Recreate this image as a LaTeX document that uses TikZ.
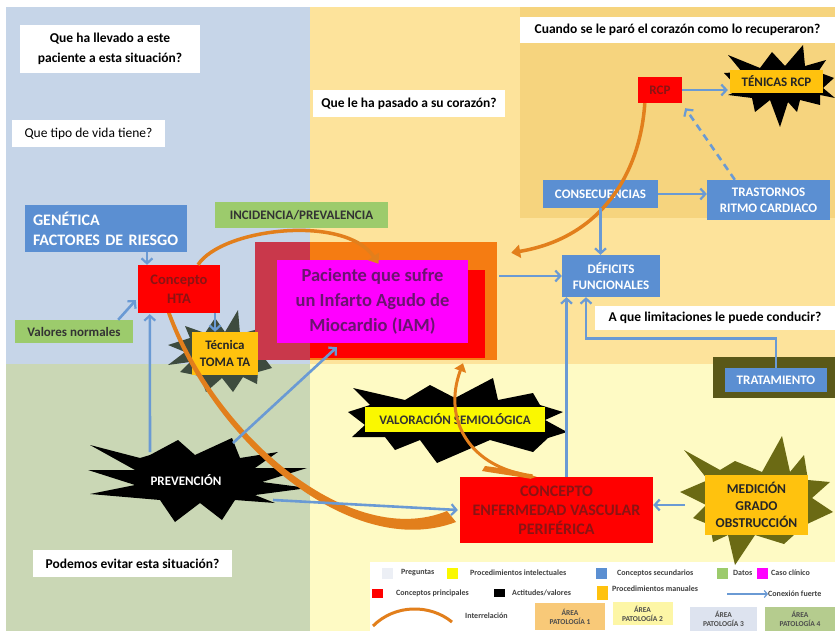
\documentclass[tikz,border=0pt]{standalone}
\usepackage{fontspec}
\setmainfont{Carlito}
\usetikzlibrary{arrows.meta,calc}
\definecolor{areaA}{HTML}{FDE39B}
\definecolor{areaAd}{HTML}{F6D47E}
\definecolor{areaB}{HTML}{FEFAC4}
\definecolor{areaC}{HTML}{C6D5E8}
\definecolor{areaD}{HTML}{CAD7B5}
\definecolor{secblue}{HTML}{5B8FD2}
\definecolor{arrblue}{HTML}{6A9AD4}
\definecolor{redtxt}{HTML}{8A1414}
\definecolor{pured}{HTML}{FF0000}
\definecolor{magbox}{HTML}{FF00FF}
\definecolor{datgreen}{HTML}{9CCB6C}
\definecolor{manual}{HTML}{FFC20E}
\definecolor{intel}{HTML}{FAF800}
\definecolor{interr}{HTML}{E27F1C}
\definecolor{pacor}{HTML}{F57C12}
\definecolor{paccr}{HTML}{C9384B}
\definecolor{magtxt}{HTML}{6B1470}
\definecolor{olivestar}{HTML}{6B6A14}
\definecolor{darkolive}{HTML}{5A5818}
\definecolor{tomastar}{HTML}{3D4B3E}
\definecolor{legA}{HTML}{F8C978}
\definecolor{legB}{HTML}{FDF6A6}
\definecolor{legC}{HTML}{DDE3EF}
\definecolor{legD}{HTML}{B5CC8E}
\definecolor{legQ}{HTML}{ECEFF5}
\tikzset{
 box/.style={inner sep=0pt, align=center, font=\bfseries\fontsize{13}{16}\selectfont},
 qbox/.style={box, fill=white, text=black, font=\bfseries\fontsize{13.5}{20}\selectfont},
 secbox/.style={box, fill=secblue, text=white},
 prinbox/.style={box, fill=pured, text=redtxt},
 datbox/.style={box, fill=datgreen, text=black!80},
 manbox/.style={box, fill=manual, text=black!85},
 intbox/.style={box, fill=intel, text=black!80},
 conn/.style={draw=arrblue, line width=2.6pt, -{Straight Barb[length=5pt,width=11pt,line width=2.2pt]}},
 rel/.style={draw=interr, line width=4pt},
 legtxt/.style={inner sep=0pt, anchor=west, font=\bfseries\fontsize{8}{9}\selectfont, text=black!75},
 legsw/.style={inner sep=0pt, minimum width=11pt, minimum height=11pt},
 legarea/.style={inner sep=0pt, align=center, font=\bfseries\fontsize{7.5}{9}\selectfont, text=black!70},
}
\begin{document}
\begin{tikzpicture}[x=1pt,y=-1pt]
\useasboundingbox (0,0) rectangle (835,631);
% backgrounds
\fill[white] (0,0) rectangle (835,631);
\fill[areaC] (6,7) rectangle (310,364);
\fill[areaA] (310,7) rectangle (835,364);
\fill[areaAd] (520,7) rectangle (835,218);
\fill[areaD] (6,364) rectangle (310,631);
\fill[areaB] (310,364) rectangle (835,631);
\fill[white] (370,562) rectangle (835,631);

% questions
\node[qbox, minimum width=180pt, minimum height=48pt] (q1) at (110,49) {Que ha llevado a este\\paciente a esta situación?};
\node[qbox, minimum width=153pt, minimum height=27pt, font=\fontsize{13.5}{16}\selectfont] (q2) at (88.5,133.5) {Que tipo de vida tiene?};
\node[qbox, minimum width=192pt, minimum height=27pt] (q3) at (409,103.5) {Que le ha pasado a su corazón?};
\node[qbox, minimum width=315pt, minimum height=26pt] (q4) at (677.5,30) {Cuando se le paró el corazón como lo recuperaron?};
\node[qbox, minimum width=240pt, minimum height=24pt] (q5) at (715,318) {A que limitaciones le puede conducir?};
\node[qbox, minimum width=199pt, minimum height=27pt] (q6) at (132.5,563.5) {Podemos evitar esta situación?};

% stars
\fill[tomastar] (238,310) -- (240,334) -- (262,328) -- (275,345) -- (262,355) -- (272,368) -- (258,372) -- (257,384) -- (243,377) -- (233,392) -- (222,378) -- (206,392) -- (200,376) -- (180,372) -- (190,362) -- (168,365) -- (185,352) -- (168,345) -- (190,338) -- (185,326) -- (205,333) -- (215,318) -- (225,332) -- cycle;
\fill[black] (150,455) -- (178,440) -- (195,455) -- (232,438) -- (240,458) -- (278,452) -- (255,468) -- (307,468) -- (262,482) -- (308,488) -- (255,495) -- (275,503) -- (235,500) -- (222,520) -- (200,503) -- (175,522) -- (160,500) -- (90,494) -- (135,485) -- (88,470) -- (135,470) -- (90,445) -- (140,458) -- cycle;
\fill[black] (353,388) -- (405,400) -- (430,385) -- (455,398) -- (493,378) -- (498,400) -- (533,393) -- (540,405) -- (563,412) -- (545,420) -- (567,432) -- (548,438) -- (533,452) -- (490,440) -- (437,463) -- (420,440) -- (395,450) -- (385,437) -- (352,437) -- (365,425) -- (348,412) -- (370,405) -- cycle;
\fill[black] (728,55) -- (760,68) -- (772,52) -- (785,66) -- (803,45) -- (805,66) -- (826,60) -- (818,72) -- (834,78) -- (823,88) -- (835,98) -- (820,95) -- (820,105) -- (800,100) -- (797,112) -- (788,102) -- (780,127) -- (770,100) -- (755,112) -- (752,98) -- (728,95) -- (740,90) -- (724,73) -- (742,72) -- cycle;
\fill[olivestar] (782,436) -- (790,472) -- (804,455) -- (808,480) -- (830,482) -- (812,498) -- (833,512) -- (805,525) -- (784,544) -- (755,535) -- (735,565) -- (728,535) -- (713,542) -- (710,525) -- (693,518) -- (706,505) -- (680,492) -- (708,480) -- (684,450) -- (720,470) -- (735,461) -- (762,472) -- cycle;

% patient block
\node[fill=pacor, inner sep=0pt, minimum width=242pt, minimum height=118pt] (pacbg) at (376,301) {};
\fill[paccr] (pacbg.north west) rectangle (310,360);
\fill[pured] (310,270) rectangle (485,358);
\node[inner sep=0pt, fill=magbox, text=magtxt, align=center, minimum width=191pt, minimum height=83pt, font=\bfseries\fontsize{18.5}{25}\selectfont] (pac) at (372.5,301.5) {Paciente que sufre\\un Infarto Agudo de\\Miocardio (IAM)};

% concept nodes
\node[secbox, align=left, minimum width=162pt, minimum height=47pt, font=\bfseries\fontsize{16}{20}\selectfont, text width=146pt] (gen) at (106,228.5) {GENÉTICA\\FACTORES DE RIESGO};
\node[datbox, minimum width=173pt, minimum height=26pt] (inc) at (301.5,215) {INCIDENCIA/PREVALENCIA};
\node[prinbox, minimum width=82pt, minimum height=48pt, font=\bfseries\fontsize{14.5}{19}\selectfont] (hta) at (179,289) {Concepto\\HTA};
\node[datbox, minimum width=118pt, minimum height=23pt] (val) at (74,331.5) {Valores normales};
\node[manbox, minimum width=66pt, minimum height=43pt, font=\bfseries\fontsize{13}{17}\selectfont] (tec) at (225,353.5) {Técnica\\TOMA TA};
\node[prinbox, minimum width=44pt, minimum height=26pt] (rcp) at (660,90) {RCP};
\node[manbox, minimum width=93pt, minimum height=23pt] (ten) at (776.5,81.5) {TÉNICAS RCP};
\node[secbox, minimum width=115pt, minimum height=28pt] (cons) at (600.5,194) {CONSECUENCIAS};
\node[secbox, minimum width=123pt, minimum height=40pt] (tras) at (768.5,200) {TRASTORNOS\\RITMO CARDIACO};
\node[secbox, minimum width=98pt, minimum height=42pt] (def) at (611,276) {DÉFICITS\\FUNCIONALES};
\fill[darkolive] (713,357) rectangle (835,398);
\node[secbox, minimum width=102pt, minimum height=24pt] (trat) at (776,380) {TRATAMIENTO};
\node[intbox, minimum width=180pt, minimum height=25pt] (valor) at (455,419.5) {VALORACIÓN SEMIOLÓGICA};
\node[prinbox, minimum width=193pt, minimum height=66pt, font=\bfseries\fontsize{16}{19}\selectfont] (cevp) at (556.5,510) {CONCEPTO\\ENFERMEDAD VASCULAR\\PERIFÉRICA};
\node[manbox, minimum width=103pt, minimum height=60pt, font=\bfseries\fontsize{13.5}{17}\selectfont] (med) at (756.5,505) {MEDICIÓN\\GRADO\\OBSTRUCCIÓN};
\node[inner sep=0pt, text=white, font=\bfseries\fontsize{13}{16}\selectfont] (prev) at (186,480) {PREVENCIÓN};

% interrelation curves
\draw[rel, line width=3.5pt, -{Triangle[length=9pt,width=13pt]}] ($(hta.north)+(19,0)$) .. controls (222,228) and (345,214) .. ($(pac.north)+(6,4)$);
\draw[rel, line width=3.5pt, -{Triangle[length=9pt,width=13pt]}] ($(rcp.south west)+(7,0)$) .. controls (640,175) and (600,238) .. ($(pacbg.north east)+(14,11)$);
\draw[rel, line width=3pt, -{Triangle[length=8pt,width=12pt]}] ($(cevp.north)+(-24,-1)$) .. controls (470,468) and (442,420) .. ($(pacbg.south)+(87,3)$);
\fill[interr] ($(cevp.north)+(-20,0)$) .. controls (515,470) and (500,468) .. (485,466) -- (482,471) .. controls (500,474) and (515,476) .. ($(cevp.north)+(-26,2)$) -- cycle;
\fill[interr] ($(hta.south)+(-12,0)$) .. controls (212,440) and (350,562) .. (456,522) -- (447,511) .. controls (352,550) and (218,438) .. ($(hta.south)+(-8,0)$) -- cycle;

% blue connectors
\draw[conn] ($(gen.south)+(41,0)$) -- ($(hta.north)+(-32,0)$);
\draw[conn] ($(val.north east)+(-15,0)$) -- ($(hta.south west)+(-2,-13)$);
\draw[conn] ($(hta.south)+(36,0)$) -- ($(tec.north)+(-10,0)$);
\draw[conn] ($(prev)+(-36,-28)$) -- ($(hta.south west)+(12,1)$);
\draw[conn] ($(prev)+(47,-37)$) -- ($(pacbg.south west)+(82,-13)$);
\draw[conn] ($(prev)+(87,20)$) -- ($(cevp.west)+(-2,0)$);
\draw[conn] ($(pacbg.east)+(2,-25)$) -- (def.west);
\draw[conn] (cons.south) -- (cons.south |- def.north);
\draw[conn] (cons.east) -- (cons.east -| tras.west);
\draw[conn, dash pattern=on 7pt off 5pt] ($(tras.north west)+(28,0)$) -- ($(rcp.south east)+(3,5)$);
\draw[conn] (rcp.east) -- ($(rcp.east -| ten.west)+(-2,0)$);
\coordinate (c1) at ($(cevp.north)+(10,0)$);
\draw[conn] (c1) -- (c1 |- def.south);
\coordinate (t1) at ($(def.south)+(-25,0)$);
\draw[conn] (trat.north) |- ($(t1)+(0,41)$) -- (t1);
\draw[conn] ($(med.west)+(-20,0)$) -- (cevp.east |- med.west);

% legend
\node[legsw, fill=legQ] (l1) at (387,573) {};
\node[legtxt] (l1t) at (401,573) {Preguntas};
\node[legsw, fill=intel] (l2) at (452,573) {};
\node[legtxt] (l2t) at (470,573) {Procedimientos intelectuales};
\node[legsw, fill=secblue] (l3) at (601,573) {};
\node[legtxt] (l3t) at (617,573) {Conceptos secundarios};
\node[legsw, fill=datgreen] (l4) at (722,573) {};
\node[legtxt] (l4t) at (733,573) {Datos};
\node[legsw, fill=magbox] (l5) at (762,573) {};
\node[legtxt] (l5t) at (771,573) {Caso clínico};
\node[legsw, fill=pured, minimum height=9pt] (l6) at (377,593) {};
\node[legtxt] (l6t) at (396,593) {Conceptos principales};
\node[legsw, fill=black, minimum height=8pt] (l7) at (499,593) {};
\node[legtxt] (l7t) at (512,593) {Actitudes/valores};
\node[legsw, fill=manual, minimum height=14pt] (l8) at (602,593) {};
\node[legtxt] (l8t) at (612,589) {Procedimientos manuales};
\coordinate (la) at (727,594);
\node[legtxt] (l9t) at (768,594) {Conexión fuerte};
\draw[arrblue, line width=1.2pt, -{Straight Barb[length=3pt,width=7pt]}] (la) -- (l9t.west);
\coordinate (lc1) at (373,626);
\coordinate (lc2) at (452,622);
\draw[interr, line width=3pt] (lc1) .. controls (395,604) and (430,604) .. (lc2);
\node[legtxt] (l10t) at (465,616) {Interrelación};
\node[legarea, fill=legA, minimum width=70pt, minimum height=27pt] (a1) at (570,616.5) {ÁREA\\PATOLOGÍA 1};
\node[legarea, fill=legB, minimum width=60pt, minimum height=23pt] (a2) at (642.5,613.5) {ÁREA\\PATOLOGÍA 2};
\node[legarea, fill=legC, minimum width=67pt, minimum height=24pt] (a3) at (723.5,619) {ÁREA\\PATOLOGÍA 3};
\node[legarea, fill=legD, minimum width=70pt, minimum height=24pt] (a4) at (800,619) {ÁREA\\PATOLOGÍA 4};
\end{tikzpicture}
\end{document}
